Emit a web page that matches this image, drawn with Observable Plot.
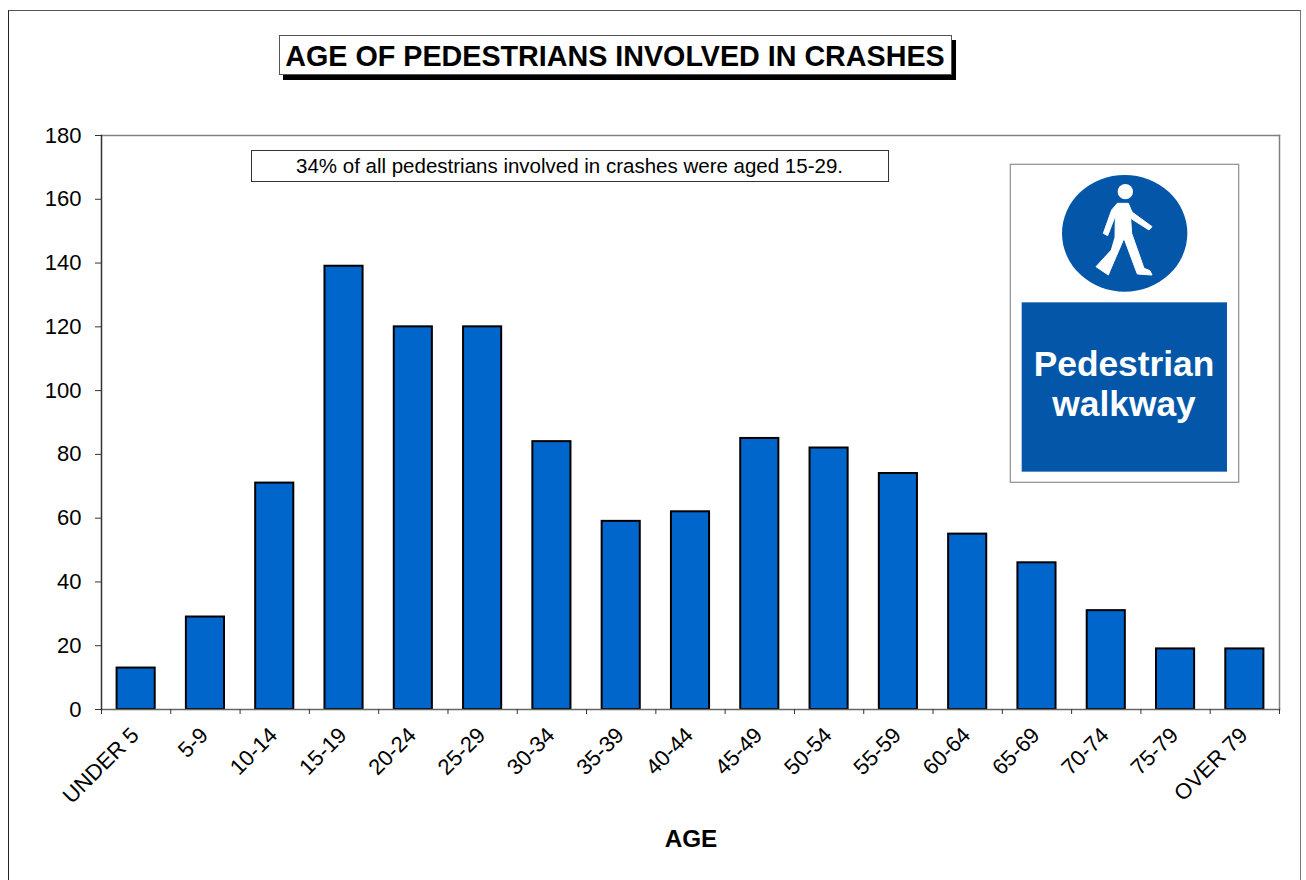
<!DOCTYPE html>
<html>
<head>
<meta charset="utf-8">
<script src="https://cdn.jsdelivr.net/npm/d3@7"></script>
<script src="https://cdn.jsdelivr.net/npm/@observablehq/plot@0.6"></script>
<style>
html,body{margin:0;padding:0;background:#fff;overflow:hidden;width:1306px;height:880px;font-family:"Liberation Sans",Arial,sans-serif;color:#000}
#chart{position:absolute;left:0;top:0}
#chart svg{display:block;background:transparent}
.frame{position:absolute;left:8px;top:10px;width:1293px;height:900px;border:1.5px solid #222;border-right-color:#777;border-top-color:#555;box-sizing:border-box}
.title{position:absolute;left:278.5px;top:35px;width:673px;height:40px;box-sizing:border-box;background:#fff;border:1px solid #555;box-shadow:4px 5px 0 #000;font-weight:bold;font-size:28.7px;line-height:41px;text-align:center;white-space:nowrap}
.note{position:absolute;left:250.5px;top:150px;width:638px;height:32px;box-sizing:border-box;background:#fff;border:1.5px solid #333;font-size:20.5px;line-height:29px;text-align:center;white-space:nowrap}
.axislabel{position:absolute;left:591px;width:200px;top:825px;text-align:center;font-weight:bold;font-size:24.3px;line-height:28px}
#sign{position:absolute;left:1000px;top:150px}
</style>
</head>
<body>
<div class="frame"></div>
<div id="chart"></div>
<div class="title">AGE OF PEDESTRIANS INVOLVED IN CRASHES</div>
<div class="note">34% of all pedestrians involved in crashes were aged 15-29.</div>
<div class="axislabel">AGE</div>
<svg id="sign" width="260" height="345" viewBox="0 0 780 1035">
  <rect x="31" y="43" width="685" height="954" fill="#fff" stroke="#999" stroke-width="4"/>
  <ellipse cx="374" cy="250" rx="188" ry="175" fill="#0457a8"/>
  <circle cx="376" cy="125" r="23" fill="#fff"/>
  <path fill="#fff" stroke="#fff" stroke-width="3" stroke-linejoin="round" d="M352 160 L335 180 L310 250 L323 257 L346 197 L345 262 L334 300 L288 350 L325 375 L331 360 L372 265 L412 372 L456 375 L450 362 L432 355 L395 250 L392 205 L447 240 L456 230 L396 186 L385 160 Z"/>
  <rect x="65" y="457" width="616" height="508" fill="#0457a8"/>
  <text x="372" y="677" text-anchor="middle" fill="#fff" font-family="Liberation Sans" font-weight="bold" font-size="106">Pedestrian</text>
  <text x="372" y="797" text-anchor="middle" fill="#fff" font-family="Liberation Sans" font-weight="bold" font-size="106">walkway</text>
</svg>
<script>
const ageGroups = ["UNDER 5","5-9","10-14","15-19","20-24","25-29","30-34","35-39","40-44","45-49","50-54","55-59","60-64","65-69","70-74","75-79","OVER 79"];
const crashCounts = [13,29,71,139,120,120,84,59,62,85,82,74,55,46,31,19,19];
const yTicks = [0,20,40,60,80,100,120,140,160,180];
const rows = ageGroups.map((age,i)=>({age,count:crashCounts[i]}));
const halfStep = (1279-101)/17/2;

const chart = Plot.plot({
  width:1306, height:880,
  marginLeft:101, marginRight:27, marginTop:135, marginBottom:171,
  style:{fontFamily:"'Liberation Sans',Arial,sans-serif",background:"transparent",color:"#000",overflow:"visible"},
  x:{domain:ageGroups,round:false,paddingInner:0.45,paddingOuter:0.225,label:null},
  y:{domain:[0,180],label:null},
  marks:[
    Plot.frame({anchor:"top",stroke:"#808080",strokeWidth:1.5}),
    Plot.frame({anchor:"right",stroke:"#808080",strokeWidth:1.5}),
    Plot.barY(rows,{x:"age",y:"count",fill:"#0066cc",stroke:"#000",strokeWidth:2}),
    Plot.frame({anchor:"bottom",stroke:"#666",strokeWidth:1.5}),
    Plot.frame({anchor:"left",stroke:"#333",strokeWidth:1.5}),
    Plot.axisY({ticks:yTicks,tickSize:6,tickPadding:14,fontSize:22,label:null,stroke:"#333",strokeOpacity:1,fill:"#000"}),
    Plot.axisX({tickSize:5,text:null,dx:-halfStep,label:null,stroke:"#333",strokeOpacity:1}),
    Plot.axisX(["OVER 79"],{tickSize:5,text:null,dx:halfStep,label:null,stroke:"#333",strokeOpacity:1}),
    Plot.axisX({tickSize:0,tickPadding:22,tickRotate:-45,dx:-1,fontSize:22,label:null,fill:"#000"})
  ]
});
document.getElementById("chart").appendChild(chart);
</script>
</body>
</html>
